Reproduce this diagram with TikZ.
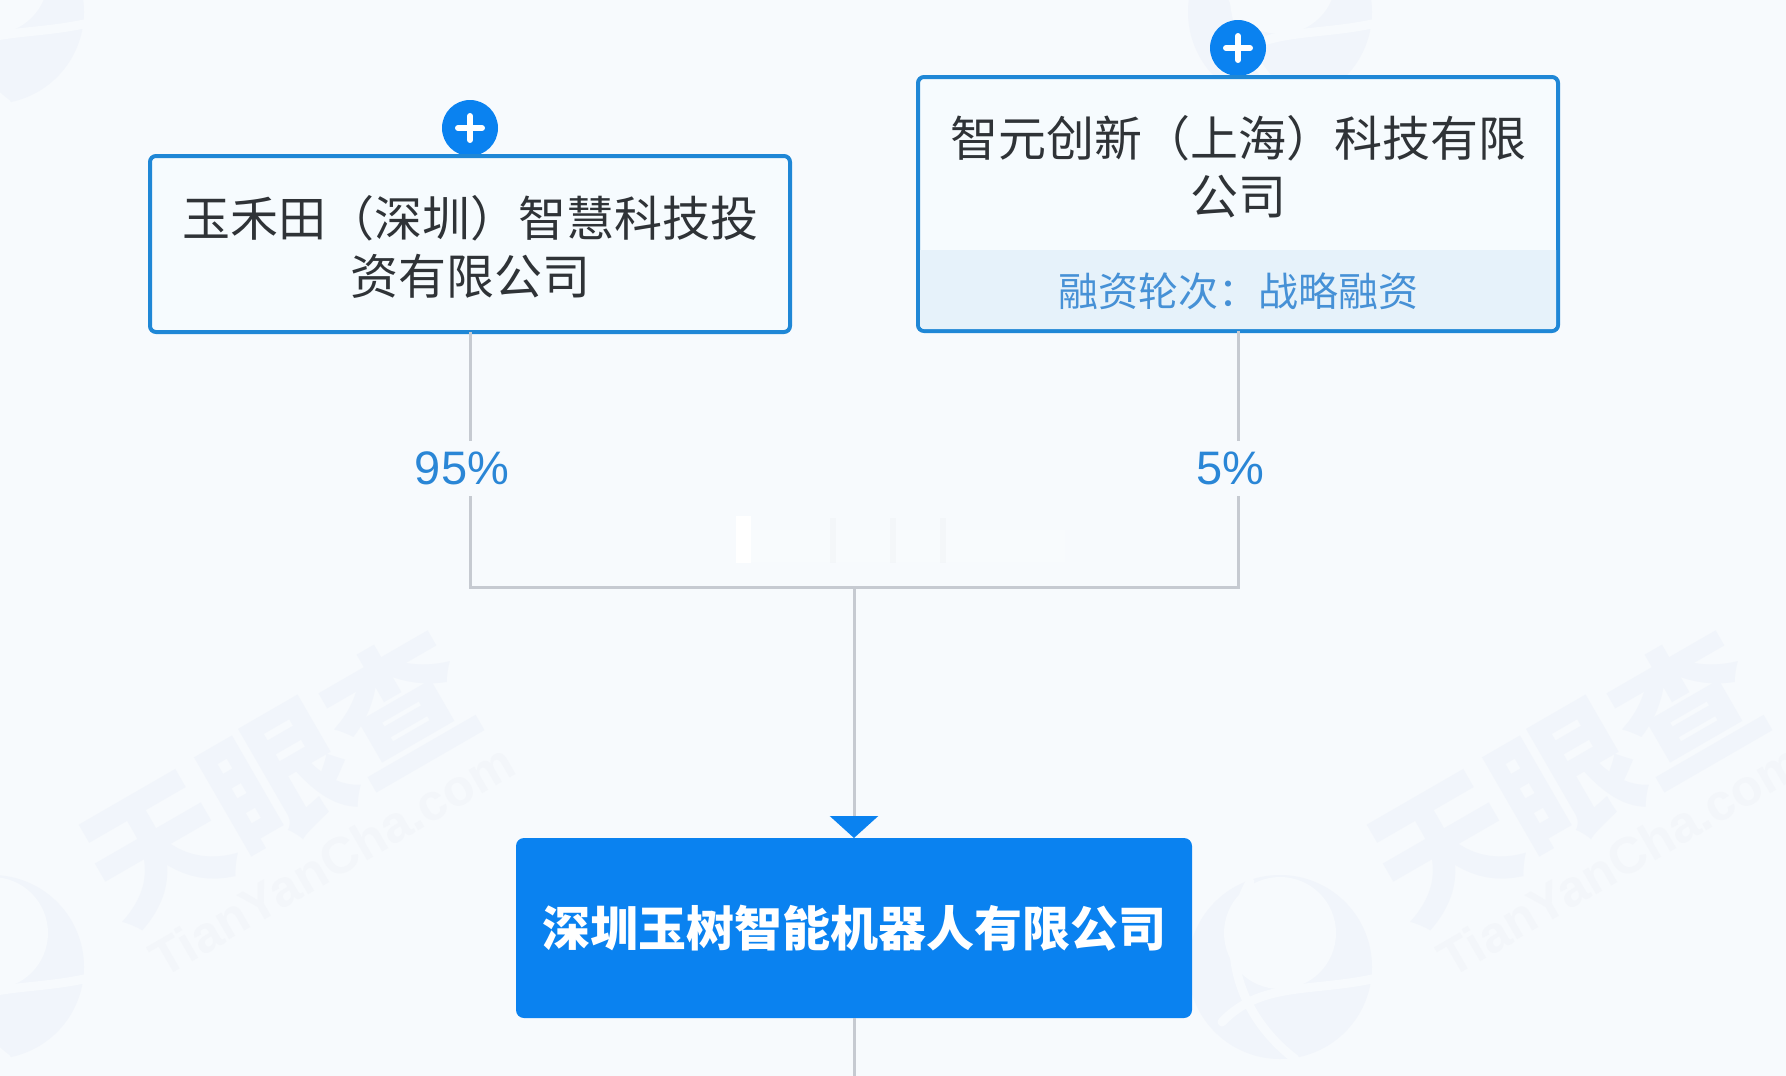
\documentclass[tikz,border=0pt]{standalone}
\usepackage{fontspec}
\setmainfont{Liberation Sans}
\newfontfamily\cjk{Noto Sans CJK SC}
\usetikzlibrary{arrows.meta}
\definecolor{pagebg}{HTML}{F7FAFD}
\definecolor{boxfill}{HTML}{F6FBFE}
\definecolor{boxedge}{HTML}{1F87D6}
\definecolor{bandfill}{HTML}{E6F2FA}
\definecolor{mainblue}{HTML}{0A82F0}
\definecolor{linegrey}{HTML}{C6CAD1}
\definecolor{inktext}{HTML}{2F3337}
\definecolor{bluetext}{HTML}{4691D6}
\definecolor{pcttext}{HTML}{2A86D6}
\definecolor{wmark}{HTML}{F1F5FB}
\definecolor{wmarksoft}{HTML}{F3F6FA}
\tikzset{
  company/.style={draw=boxedge,line width=4pt,fill=boxfill,rounded corners=6pt,inner sep=0pt,outer sep=0pt,minimum width=637pt},
  nametext/.style={inner sep=0pt,outer sep=0pt,align=center,text=inktext,font=\cjk\fontsize{48}{58}\selectfont},
  bandtext/.style={inner sep=0pt,outer sep=0pt,text=bluetext,font=\cjk\fontsize{40}{48}\selectfont},
  plusdisc/.style={circle,fill=mainblue,inner sep=0pt,outer sep=0pt,minimum size=56pt},
  plusbar/.style={draw=white,line width=6pt,line cap=round},
  link/.style={draw=linegrey,line width=3pt},
  pct/.style={fill=pagebg,inner sep=0pt,outer sep=0pt,minimum height=55pt,minimum width=100pt,text=pcttext,font=\fontsize{47}{50}\selectfont},
  markcn/.style={inner sep=0pt,text=wmark,rotate=30,font=\cjk\bfseries\fontsize{140}{140}\selectfont},
  markla/.style={inner sep=0pt,text=wmarksoft,rotate=30,font=\bfseries\fontsize{51}{55}\selectfont},
  logoarc/.style={draw=pagebg,line width=9pt,line cap=round}
}
\newcommand{\wmlogo}[2]{%
  \fill[wmark] (#1,#2) circle[radius=92pt];
  \fill[pagebg] (#1,#2-34) circle[radius=56pt];
  \draw[logoarc] (#1-58,#2+55) .. controls (#1-20,#2+15) and (#1+30,#2+25) .. (#1+92,#2+12);
  \draw[logoarc] (#1-30,#2-85) .. controls (#1-65,#2-20) and (#1-40,#2+50) .. (#1+15,#2+92);
}
\begin{document}
\begin{tikzpicture}[x=1pt,y=-1pt]
\useasboundingbox (0,0) rectangle (1786,1076);
\fill[pagebg] (0,0) rectangle (1786,1076);
% watermarks
\wmlogo{-8}{12}
\wmlogo{1280}{12}
\wmlogo{-8}{967}
\wmlogo{1280}{967}
\node[markcn] (wa) at (278,778) {天眼查};
\node[markcn] (wb) at (1566,778) {天眼查};
\node[markla] (wc) at (332,860) {TianYanCha.com};
\node[markla] (wd) at (1620,860) {TianYanCha.com};
% erased smudge
\fill[white] (736,516) rectangle (751,563);
\fill[white,opacity=.2] (751,530) rectangle (1065,562);
\fill[linegrey,opacity=.07] (830,518) rectangle (836,563);
\fill[linegrey,opacity=.07] (890,518) rectangle (896,563);
\fill[linegrey,opacity=.07] (940,518) rectangle (946,563);
% plus discs
\node[plusdisc] (plusl) at (470,128) {};
\node[plusdisc] (plusr) at (1238,48) {};
\draw[plusbar] ([xshift=-12pt]plusl.center) -- ([xshift=12pt]plusl.center);
\draw[plusbar] ([yshift=-12pt]plusl.center) -- ([yshift=12pt]plusl.center);
\draw[plusbar] ([xshift=-12pt]plusr.center) -- ([xshift=12pt]plusr.center);
\draw[plusbar] ([yshift=-12pt]plusr.center) -- ([yshift=12pt]plusr.center);
% boxes
\node[company,minimum width=640pt,minimum height=176pt] (left) at (470,244) {};
\node[company,minimum width=640pt,minimum height=254pt] (right) at (1238,204) {};
\fill[bandfill,rounded corners=4pt] (920,250) [sharp corners] -- (1556,250) [rounded corners=4pt] -- (1556,329) -- (920,329) [sharp corners] -- cycle;
\node[nametext] (lefttext) at (470,247) {玉禾田（深圳）智慧科技投\\资有限公司};
\node[nametext] (righttext) at (1238,167) {智元创新（上海）科技有限\\公司};
\node[bandtext] (bandlabel) at (1238,291) {融资轮次：战略融资};
\node[fill=mainblue,rounded corners=8pt,inner sep=0pt,outer sep=0pt,minimum width=676pt,minimum height=180pt,text=white,font=\cjk\bfseries\fontsize{48}{58}\selectfont] (target) at (854,928) {\raisebox{-2pt}{深圳玉树智能机器人有限公司}};
% connectors
\coordinate (jl) at (470,587);
\coordinate (jr) at (1238,587);
\coordinate (jm) at (854,587);
\coordinate (below) at (854,1076);
\draw[link] (left.south) -- (jl) -- (jr) -- (right.south);
\draw[link,-{Triangle[width=48pt,length=22pt,color=mainblue]}] (jm) -- (jm |- target.north);
\draw[link] (jm |- target.south) -- (below);
\node[pct] (pa) at (462,468) {95\%};
\node[pct,minimum width=76pt] (pb) at (1230,468) {5\%};
\end{tikzpicture}
\end{document}
